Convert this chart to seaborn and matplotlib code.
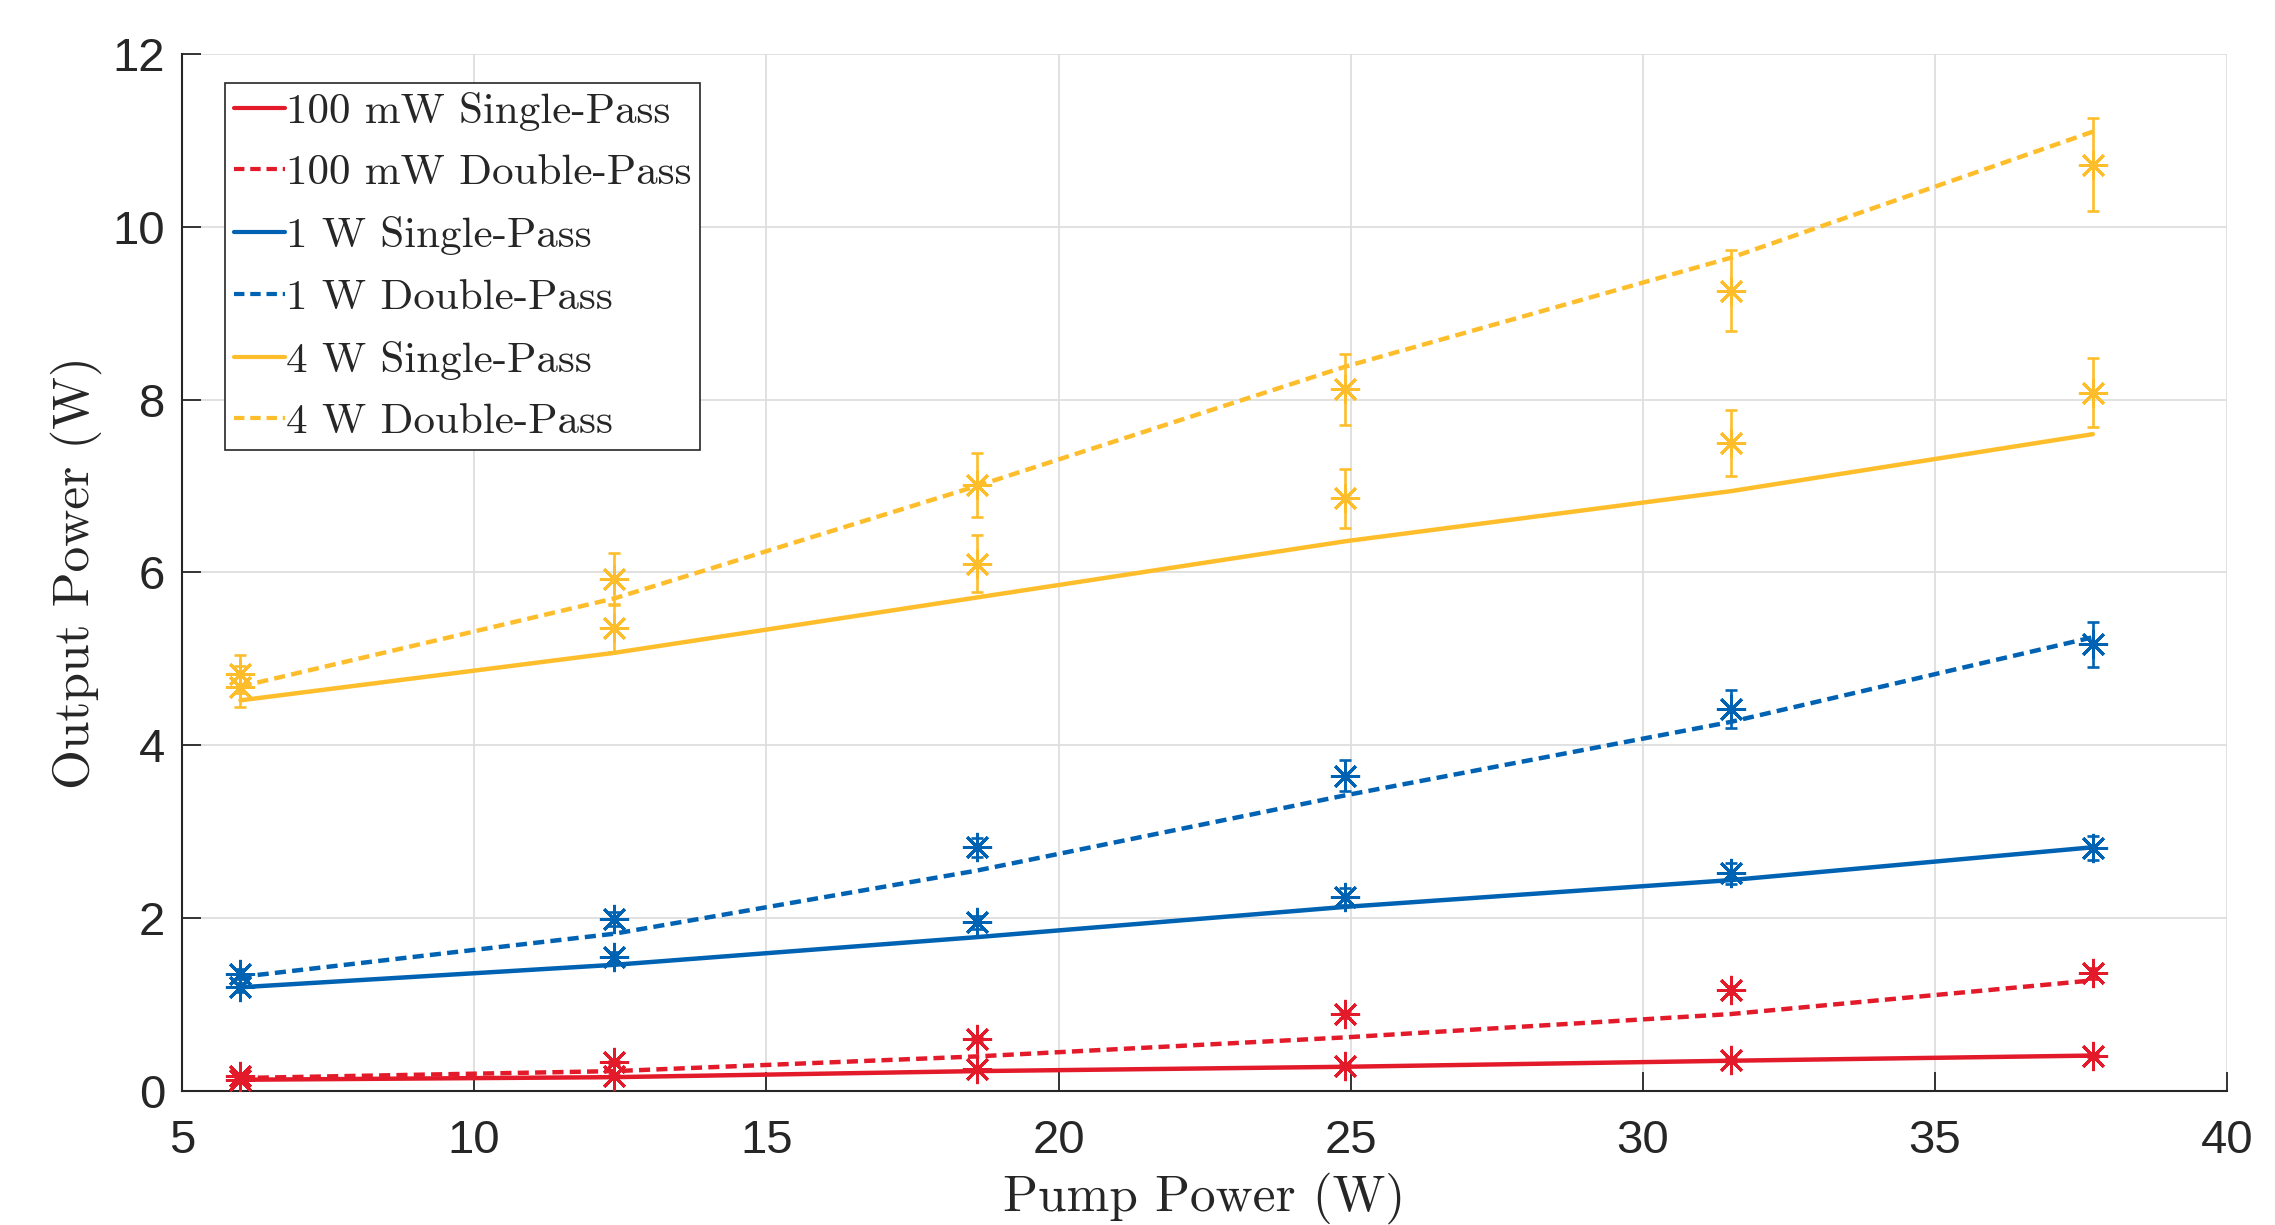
import numpy as np
import pandas as pd
import matplotlib
matplotlib.use('Agg')
import matplotlib.pyplot as plt
import seaborn as sns

# pump power points (W)
pump = [6.0, 12.4, 18.6, 24.9, 31.5, 37.7]

# model curves (W)
model_100mw_sp = [0.13, 0.16, 0.23, 0.28, 0.35, 0.41]
model_100mw_dp = [0.15, 0.23, 0.40, 0.62, 0.89, 1.28]
model_1w_sp = [1.20, 1.46, 1.78, 2.13, 2.44, 2.82]
model_1w_dp = [1.32, 1.82, 2.55, 3.42, 4.27, 5.25]
model_4w_sp = [4.52, 5.07, 5.71, 6.36, 6.94, 7.60]
model_4w_dp = [4.68, 5.70, 7.00, 8.38, 9.64, 11.10]

# measured points and errors (W)
meas_100mw_sp = [0.13, 0.17, 0.25, 0.29, 0.36, 0.41]
err_100mw_sp = [0.01, 0.01, 0.01, 0.02, 0.02, 0.02]
meas_100mw_dp = [0.17, 0.33, 0.60, 0.89, 1.17, 1.36]
err_100mw_dp = [0.01, 0.02, 0.03, 0.04, 0.05, 0.06]
meas_1w_sp = [1.20, 1.55, 1.95, 2.25, 2.52, 2.81]
err_1w_sp = [0.05, 0.06, 0.08, 0.10, 0.12, 0.14]
meas_1w_dp = [1.35, 1.99, 2.82, 3.65, 4.42, 5.17]
err_1w_dp = [0.06, 0.08, 0.11, 0.18, 0.22, 0.26]
meas_4w_sp = [4.68, 5.36, 6.10, 6.86, 7.50, 8.08]
err_4w_sp = [0.24, 0.28, 0.33, 0.34, 0.38, 0.40]
meas_4w_dp = [4.83, 5.92, 7.01, 8.12, 9.26, 10.72]
err_4w_dp = [0.22, 0.30, 0.37, 0.41, 0.47, 0.54]

labels = ['100 mW Single-Pass', '100 mW Double-Pass', '1 W Single-Pass',
          '1 W Double-Pass', '4 W Single-Pass', '4 W Double-Pass']

red = '#E31A2A'
blue = '#0062B2'
yellow = '#FEBE2C'

series = [
    (labels[0], model_100mw_sp, meas_100mw_sp, err_100mw_sp, red, '-'),
    (labels[1], model_100mw_dp, meas_100mw_dp, err_100mw_dp, red, '--'),
    (labels[2], model_1w_sp, meas_1w_sp, err_1w_sp, blue, '-'),
    (labels[3], model_1w_dp, meas_1w_dp, err_1w_dp, blue, '--'),
    (labels[4], model_4w_sp, meas_4w_sp, err_4w_sp, yellow, '-'),
    (labels[5], model_4w_dp, meas_4w_dp, err_4w_dp, yellow, '--'),
]

sns.set_theme(style='whitegrid')
plt.rcParams['font.family'] = ['Liberation Sans', 'DejaVu Sans']

fig = plt.figure(figsize=(22.75, 12.25), dpi=100)
ax = fig.add_axes([0.080, 0.1094, 0.899, 0.8466])

handles = []
for name, model, meas, err, col, ls in series:
    df = pd.DataFrame({'pump': pump, 'power': model})
    style = '-' if ls == '-' else (0, (2.5, 1.4))
    sns.lineplot(data=df, x='pump', y='power', color=col, linestyle=style,
                 linewidth=3.2, ax=ax, label=name, zorder=3)
    handles.append(ax.lines[-1])
    ax.errorbar(pump, meas, yerr=err, fmt='none', ecolor=col,
                elinewidth=1.9, capsize=4, capthick=1.9, zorder=4)
    ax.plot(pump, meas, linestyle='none', marker=(8, 2, 0), markersize=21,
            markeredgewidth=2.1, color=col, zorder=5)

ax.set_xlim(5, 40)
ax.set_ylim(0, 12)
ax.set_xticks(range(5, 41, 5))
ax.set_yticks(range(0, 13, 2))
ax.grid(True, color='#dedede', linewidth=1.3)
ax.set_axisbelow(True)

for side in ['top', 'right']:
    ax.spines[side].set_visible(False)
for side in ['left', 'bottom']:
    ax.spines[side].set_color('#262626')
    ax.spines[side].set_linewidth(1.5)

ax.tick_params(axis='both', direction='in', length=14, width=1.3,
               colors='#262626', labelsize=34)
ax.tick_params(axis='x', pad=20)
ax.tick_params(axis='y', pad=12)
ax.tick_params(axis='x', bottom=True)
ax.tick_params(axis='y', left=True)

ax.set_xlabel('Pump Power (W)', fontsize=37, family='cmr10', color='#262626', labelpad=7)
ax.set_ylabel('Output Power (W)', fontsize=37, family='cmr10', color='#262626', labelpad=8)

leg = ax.legend(handles=handles, labels=labels, loc='upper left',
                bbox_to_anchor=(225 / 2275, 1 - 83 / 1225),
                bbox_transform=fig.transFigure, borderaxespad=0,
                prop={'family': 'cmr10', 'size': 31}, frameon=True,
                fancybox=False, edgecolor='#262626', framealpha=1,
                handlelength=1.2, handletextpad=0.02, borderpad=0.2,
                labelspacing=0.55)
leg.get_frame().set_linewidth(1.2)
for line in leg.get_lines():
    line.set_linewidth(3.0)

fig.savefig('out.png', dpi=100)
